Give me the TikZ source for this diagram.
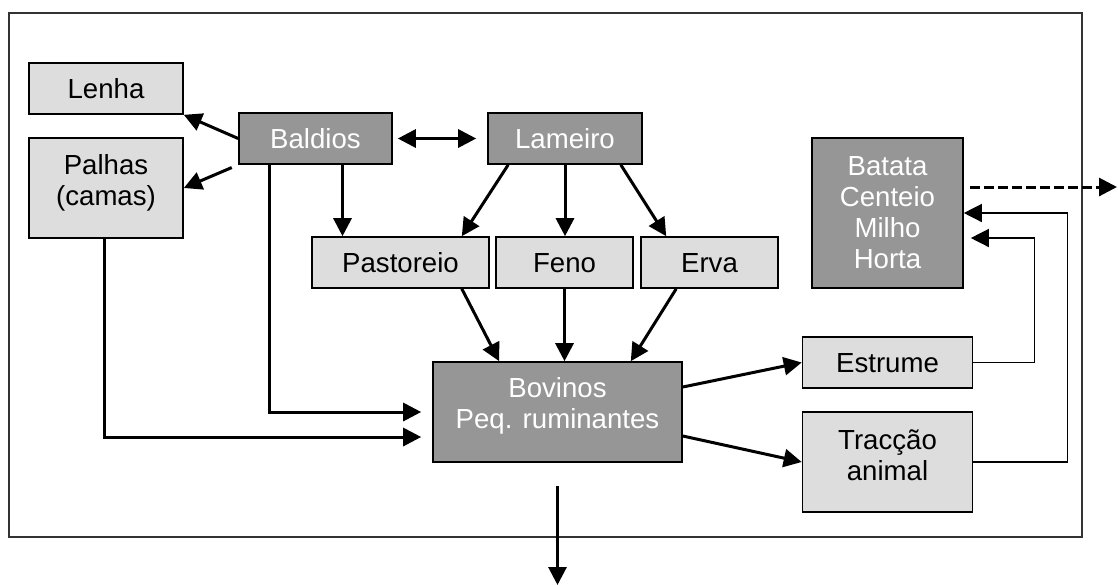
\documentclass[tikz,border=0pt]{standalone}
\usepackage{fontspec}
\setmainfont{Liberation Sans}
\usetikzlibrary{arrows.meta, positioning}

\definecolor{darkbox}{RGB}{150,150,150}
\definecolor{lightbox}{RGB}{221,221,221}

\begin{document}
\begin{tikzpicture}[
  x=0.5pt, y=-0.5pt,
  font=\fontsize{13.8pt}{15.5pt}\selectfont,
  >={Triangle[length=9pt,width=9pt]},
  box/.style={draw, line width=0.8pt, rectangle, inner sep=0pt, align=center},
  one/.style={text height=10pt, text depth=0pt},
  light/.style={box, fill=lightbox, text=black},
  dark/.style={box, fill=darkbox, text=white}]

\tikzset{arr/.style={->, line width=1.5pt},
  back/.style={->, line width=0.7pt},
  outflow/.style={->, line width=1.5pt, dash pattern=on 5pt off 2pt}}

  \useasboundingbox (0,0) rectangle (1118,585);
  \draw[line width=0.65pt, draw=black!80] (9,13) rectangle (1082,537);

  \node[light, one, minimum width=77pt, minimum height=25.5pt] (lenha) at (106,88.5) {Lenha};
  \node[light, text depth=8.4pt, minimum width=77pt, minimum height=50pt] (palhas) at (106,188) {Palhas\\(camas)};
  \node[dark, one, minimum width=76.5pt, minimum height=25.5pt] (baldios) at (315.5,138.5) {Baldios};
  \node[dark, one, minimum width=77pt, minimum height=25.5pt] (lameiro) at (565,138.5) {Lameiro};
  \node[light, one, minimum width=88.5pt, minimum height=25.5pt] (pastoreio) at (400.5,262.5) {Pastoreio};
  \node[light, one, minimum width=68.5pt, minimum height=25.5pt] (feno) at (564.5,262.5) {Feno};
  \node[light, one, minimum width=68.5pt, minimum height=25.5pt] (erva) at (709.5,262.5) {Erva};
  \node[dark, minimum width=75.5pt, minimum height=75pt] (batata) at (887.5,213) {Batata\\Centeio\\Milho\\Horta};
  \node[dark, text depth=9.4pt, minimum width=124.5pt, minimum height=50pt] (bovinos) at (557.5,412) {Bovinos\\Peq. ruminantes};
  \node[light, one, minimum width=85pt, minimum height=25.5pt] (estrume) at (887.5,362.5) {Estrume};
  \node[light, text depth=7pt, minimum width=85pt, minimum height=50pt] (traccao) at (887.5,462) {Tracção\\animal};

  \coordinate (sai) at (1117,187);
  \coordinate (baixo) at (557.5,585);

  \draw[arr] (baldios.west) -- (lenha.south east);
  \draw[arr, shorten <=3.5pt] (baldios.south west) -- (palhas.east);
  \draw[arr, <->, shorten <=2.5pt, shorten >=5.5pt] (baldios.east) -- (lameiro.west);
  \draw[arr] ([xshift=13.5pt]baldios.south) -- ([xshift=-29pt]pastoreio.north);
  \draw[arr] ([xshift=10.5pt]lameiro.south west) -- ([xshift=-14pt]pastoreio.north east);
  \draw[arr] (lameiro.south) -- (lameiro.south |- feno.north);
  \draw[arr] ([xshift=-11pt]lameiro.south east) -- ([xshift=13pt]erva.north west);
  \draw[arr] ([xshift=-14pt]pastoreio.south east) -- ([xshift=33.5pt]bovinos.north west);
  \draw[arr] (feno.south) -- (feno.south |- bovinos.north);
  \draw[arr] ([xshift=18pt]erva.south west) -- ([xshift=-26pt]bovinos.north east);
  \draw[arr, shorten >=5.5pt] ([xshift=15.5pt]baldios.south west) |- (bovinos.west);
  \draw[arr, shorten >=5.5pt] ([xshift=-1pt]palhas.south) |- ([yshift=-12.5pt]bovinos.west);
  \draw[arr] ([yshift=12.5pt]bovinos.east) -- (estrume.west);
  \draw[arr] ([yshift=-12pt]bovinos.east) -- (traccao.west);
  \draw[back, shorten >=3.5pt] (estrume.east) -- ++(61,0) |- ([yshift=-12.5pt]batata.east);
  \draw[back] (traccao.east) -- ++(94,0) |- (batata.east);
  \draw[outflow] ([xshift=3pt, yshift=13pt]batata.east) -- (sai);
  \draw[arr] ([yshift=-11.5pt]bovinos.south) -- (baixo);
\end{tikzpicture}
\end{document}
